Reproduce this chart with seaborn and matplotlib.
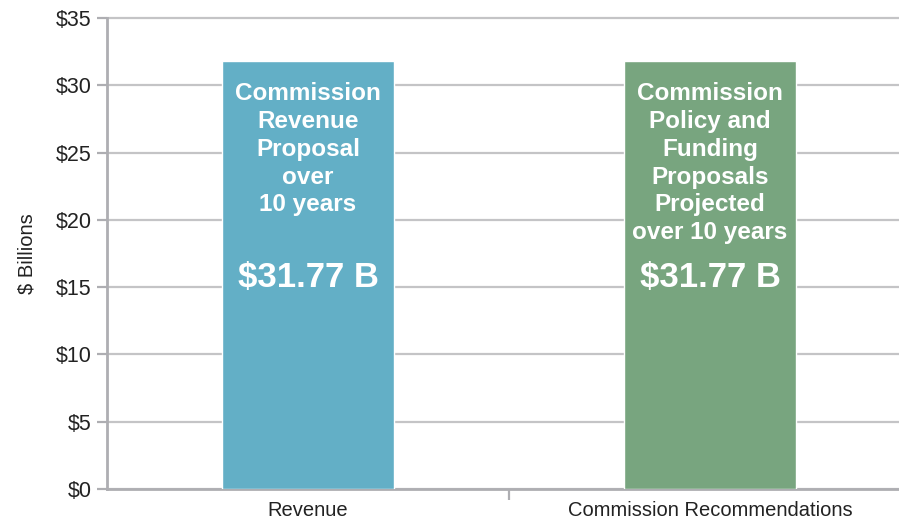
import matplotlib
matplotlib.use("Agg")
import matplotlib.pyplot as plt
import seaborn as sns
import pandas as pd

categories = ["Revenue", "Commission Recommendations"]
values = [31.77, 31.77]
bar_titles = [
    "Commission\nRevenue\nProposal\nover\n10 years",
    "Commission\nPolicy and\nFunding\nProposals\nProjected\nover 10 years",
]
value_labels = [f"${v:.2f} B" for v in values]
y_ticks = [0, 5, 10, 15, 20, 25, 30, 35]
y_tick_labels = [f"${t}" for t in y_ticks]
colors = ["#63afc6", "#78a57f"]

sns.set_theme(style="ticks")
plt.rcParams["font.family"] = ["Liberation Sans", "DejaVu Sans"]

df = pd.DataFrame({"category": categories, "value": values})

fig = plt.figure(figsize=(8.99, 5.25), dpi=100)
ax = fig.add_axes([107 / 899, 36 / 525, 804 / 899, 471 / 525])

sns.barplot(data=df, x="category", y="value", hue="category", palette=colors,
            width=0.43, legend=False, ax=ax, saturation=1, zorder=3)

ax.set_ylim(0, 35)
ax.set_xlim(-0.5, 1.5)
ax.set_yticks(y_ticks)
ax.set_yticklabels(y_tick_labels, fontsize=15.5, color="#222222")
ax.yaxis.grid(True, color="#c4c4c6", linewidth=1.6, zorder=0)
for gl in ax.get_ygridlines():
    gl.set_clip_on(False)
ax.set_axisbelow(True)

# category labels without ticks, single divider tick between categories
ax.set_xticks([0.5])
ax.set_xticklabels([""])
ax.tick_params(axis="x", length=8, width=1.6, color="#aeaeb2", direction="out", bottom=True)
ax.tick_params(axis="y", length=7, width=1.6, color="#aeaeb2", direction="out", pad=4, left=True)
for i, c in enumerate(categories):
    ax.text(i, -0.9, c, ha="center", va="top", fontsize=14.5, color="#222222")

for s in ["top", "right"]:
    ax.spines[s].set_visible(False)
for s in ["left", "bottom"]:
    ax.spines[s].set_color("#aeaeb2")
    ax.spines[s].set_linewidth(2)

ax.set_xlabel("")
ax.set_ylabel("$ Billions", fontsize=14.5, color="#222222", labelpad=14)

for i, (title, lab) in enumerate(zip(bar_titles, value_labels)):
    ax.text(i, 30.25, title, ha="center", va="top", fontsize=17.5,
            fontweight="bold", color="white", linespacing=1.27, zorder=4)
    ax.text(i, 15.75, lab, ha="center", va="center", fontsize=25,
            fontweight="bold", color="white", zorder=4)

fig.savefig("out.png", dpi=100)
